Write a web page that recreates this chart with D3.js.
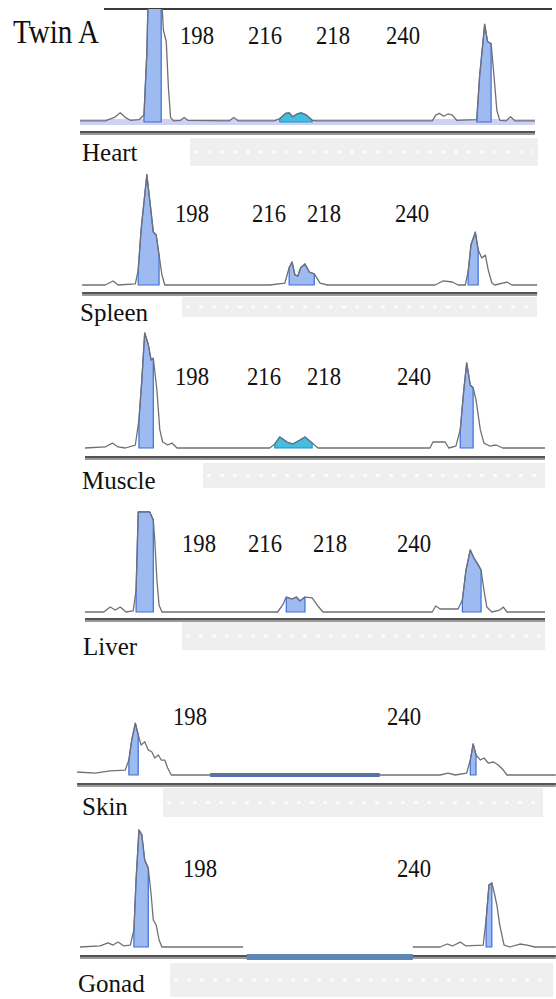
<!DOCTYPE html>
<html>
<head>
<meta charset="utf-8">
<script src="https://cdn.jsdelivr.net/npm/d3@7/dist/d3.min.js"></script>
<style>
  html, body { margin: 0; padding: 0; background: #ffffff; }
  svg { display: block; }
  text { font-family: "Liberation Serif", "Times New Roman", serif; fill: #111; }
</style>
</head>
<body>
<script>
// Fragment size (bp) vs. signal (RFU) for each tissue of Twin A.
// A null signal marks a stretch where no trace was recorded.

const heartTrace = [
  [186.0, 10], [189.5, 10], [190.8, 40], [191.6, 80], [192.3, 40], [193.0, 15],
  [194.2, 20], [194.9, 60], [195.3, 600], [195.5, 1150], [197.3, 1150], [197.6, 800],
  [198.0, 700], [198.3, 300], [198.6, 40], [199.0, 10], [200.0, 15], [200.5, 40],
  [201.0, 15], [206.8, 10], [207.4, 40], [208.0, 10], [213.0, 10], [213.8, 30],
  [214.6, 75], [215.1, 80], [215.6, 45], [216.2, 70], [216.8, 80], [217.5, 60],
  [218.3, 15], [219.0, 10], [235.0, 10], [235.5, 60], [236.0, 75], [236.6, 50],
  [237.2, 70], [237.8, 60], [238.4, 15], [241.2, 20], [241.6, 400], [242.3, 850],
  [242.7, 700], [243.2, 680], [243.6, 400], [244.0, 100], [244.4, 15], [245.3, 10],
  [245.9, 45], [246.5, 10], [249.3, 10]
];
const spleenTrace = [
  [186.3, 0], [189.5, 0], [190.6, 35], [191.3, 0], [193.7, 10], [194.1, 130],
  [194.5, 480], [195.3, 960], [195.7, 740], [196.2, 460], [196.6, 435], [197.0, 260],
  [197.4, 87], [197.8, 0], [212.4, 0], [214.5, 17], [215.1, 150], [215.5, 200],
  [215.9, 87], [216.3, 78], [216.7, 150], [217.3, 183], [217.9, 113], [218.6, 96],
  [219.4, 17], [220.4, 0], [235.4, 0], [236.5, 35], [237.8, 26], [238.6, 0],
  [239.6, 0], [240.0, 113], [240.4, 350], [241.0, 460], [241.4, 305], [241.9, 235],
  [242.4, 260], [242.8, 130], [243.3, 17], [243.7, 0], [245.4, 26], [246.1, 0],
  [249.6, 0]
];
const muscleTrace = [
  [186.7, 0], [189.5, 9], [190.5, 43], [191.3, 9], [192.3, 0], [193.7, 26],
  [194.2, 244], [194.6, 590], [195.0, 1000], [195.5, 900], [195.9, 765], [196.2, 780],
  [196.7, 500], [197.1, 160], [197.5, 52], [198.2, 26], [198.8, 43], [199.5, 0],
  [212.4, 0], [213.1, 35], [213.8, 96], [214.8, 52], [215.6, 35], [216.6, 70],
  [217.3, 96], [218.3, 43], [219.1, 0], [234.7, 0], [235.1, 52], [236.8, 52],
  [237.3, 0], [238.3, 17], [238.9, 157], [239.4, 505], [239.8, 740], [240.3, 548],
  [240.7, 522], [241.1, 418], [241.7, 157], [242.2, 43], [243.0, 17], [243.9, 26],
  [244.8, 0], [250.7, 0]
];
const liverTrace = [
  [186.7, 0], [189.3, 0], [190.2, 43], [190.9, 17], [191.6, 43], [192.4, 0],
  [193.4, 9], [193.8, 190], [194.1, 870], [195.7, 870], [196.2, 800], [196.4, 626],
  [196.7, 278], [197.0, 61], [197.4, 0], [213.5, 0], [214.2, 61], [214.7, 130],
  [215.5, 113], [216.1, 130], [216.6, 96], [217.3, 130], [218.3, 122], [219.1, 52],
  [219.8, 0], [235.0, 0], [235.5, 52], [236.1, 26], [238.6, 26], [239.2, 104],
  [239.7, 365], [240.3, 540], [240.8, 470], [241.4, 410], [241.8, 365], [242.2, 190],
  [242.6, 43], [243.3, 0], [244.4, 17], [244.9, 43], [245.4, 0], [250.7, 0]
];
const skinTrace = [
  [185.6, 26], [188.1, 17], [190.2, 35], [192.3, 43], [192.8, 130], [193.2, 305],
  [193.7, 450], [194.1, 350], [194.5, 260], [195.0, 290], [195.5, 218], [196.0, 200],
  [196.4, 148], [196.9, 174], [197.3, 130], [197.8, 130], [198.2, 61], [198.7, 0],
  [236.1, 0], [237.2, 17], [238.2, 0], [239.8, 17], [240.3, 130], [240.7, 270],
  [241.1, 174], [241.7, 130], [242.2, 148], [242.8, 104], [243.5, 113], [244.2, 87],
  [244.9, 43], [245.4, 0], [252.2, 0]
];
const gonadTrace = [
  [186.0, 0], [188.8, 9], [189.9, 35], [190.6, 17], [191.3, 43], [192.1, 9],
  [193.0, 17], [193.5, 148], [193.8, 583], [194.2, 1018], [194.6, 975], [195.0, 757],
  [195.5, 687], [195.9, 452], [196.2, 235], [196.6, 191], [197.0, 61], [197.4, 0],
  [208.7, 0], [220.0, null], [232.3, 0], [236.1, 0], [237.1, 26], [237.8, 9],
  [238.9, 43], [239.7, 9], [242.1, 17], [242.5, 235], [242.9, 540], [243.3, 557],
  [243.7, 452], [244.0, 365], [244.4, 191], [245.0, 17], [245.8, 0], [247.2, 26],
  [248.2, 17], [249.3, 0], [252.2, 0]
];

// Called peaks: size range [from, to] and the dye they belong to
const heartCalls  = [[194.9, 197.5, "blue"], [213.5, 218.3, "green"], [241.2, 243.3, "blue"]];
const spleenCalls = [[194.0, 197.0, "blue"], [214.8, 218.8, "blue"], [239.8, 241.8, "blue"]];
const muscleCalls = [[194.0, 196.5, "blue"], [213.0, 218.5, "green"], [238.6, 241.0, "blue"]];
const liverCalls  = [[193.8, 196.3, "blue"], [214.3, 218.0, "blue"], [239.2, 241.8, "blue"]];
const skinCalls   = [[192.6, 194.2, "blue"], [240.2, 241.2, "blue"]];
const gonadCalls  = [[193.3, 195.5, "blue"], [242.3, 243.6, "blue"]];

// Allele size labels
const fourAlleles = ["198", "216", "218", "240"];
const twoAlleles  = ["198", "240"];

// Size bins highlighted on the trace
const skinBin  = [204.1, 227.7];
const gonadBin = [209.2, 232.3];

const tissues = ["Heart", "Spleen", "Muscle", "Liver", "Skin", "Gonad"];

// ---------- layout ----------
const W = 556, H = 999;
const x = d3.scaleLinear().domain([186, 250]).range([80, 540]);

const dyeFill   = { blue: "#9dbbf0", green: "#45bde0" };
const dyeStroke = { blue: "#3f6fd6", green: "#1798c4" };

const panels = [
  { trace: heartTrace,  calls: heartCalls,  labels: fourAlleles, base: 122, axisY: 133,
    labelY: 44,  labelX: [180, 248, 316, 386], nameX: 82, nameY: 161,
    strip: [190, 138, 538, 166], clipTop: 9, lavender: true },
  { trace: spleenTrace, calls: spleenCalls, labels: fourAlleles, base: 285, axisY: 294,
    labelY: 222, labelX: [175, 252, 307, 395], nameX: 80, nameY: 321,
    strip: [182, 297, 537, 317] },
  { trace: muscleTrace, calls: muscleCalls, labels: fourAlleles, base: 448, axisY: 458,
    labelY: 385, labelX: [175, 247, 307, 397], nameX: 82, nameY: 489,
    strip: [203, 463, 545, 488] },
  { trace: liverTrace,  calls: liverCalls,  labels: fourAlleles, base: 612, axisY: 620,
    labelY: 552, labelX: [182, 248, 313, 397], nameX: 83, nameY: 655,
    strip: [182, 622, 545, 650] },
  { trace: skinTrace,   calls: skinCalls,   labels: twoAlleles, base: 775, axisY: 785,
    labelY: 725, labelX: [173, 387], nameX: 82, nameY: 815,
    strip: [163, 788, 543, 817], traceBin: skinBin },
  { trace: gonadTrace,  calls: gonadCalls,  labels: twoAlleles, base: 947, axisY: 957,
    labelY: 877, labelX: [183, 397], nameX: 78, nameY: 992,
    strip: [170, 963, 553, 997], axisBin: gonadBin }
];

const svg = d3.select("body").append("svg")
  .attr("width", W).attr("height", H)
  .attr("viewBox", `0 0 ${W} ${H}`);

svg.append("rect").attr("width", W).attr("height", H).attr("fill", "#ffffff");

const defs = svg.append("defs");

// Header
svg.append("line")
  .attr("x1", 104).attr("x2", 552).attr("y1", 9).attr("y2", 9)
  .attr("stroke", "#3a3a3a").attr("stroke-width", 2);
svg.append("text")
  .attr("x", 13).attr("y", 43)
  .attr("font-size", 33)
  .attr("textLength", 86).attr("lengthAdjust", "spacingAndGlyphs")
  .text("Twin A");

panels.forEach((p, i) => {
  const g = svg.append("g").attr("class", "panel-" + tissues[i].toLowerCase());
  const y = d3.scaleLinear().domain([0, 1000]).range([p.base, p.base - 115]);
  const defined = p.trace.filter(d => d[1] != null);
  const [x0, x1] = d3.extent(defined, d => d[0]);

  // clip for saturated peaks running past the header rule
  const clipId = "clip-" + i;
  defs.append("clipPath").attr("id", clipId)
    .append("rect")
    .attr("x", 0).attr("width", W)
    .attr("y", p.clipTop != null ? p.clipTop : 0)
    .attr("height", H);

  // light size-ruler strip under the axis
  const [sx0, sy0, sx1, sy1] = p.strip;
  g.append("rect")
    .attr("x", sx0).attr("y", sy0)
    .attr("width", sx1 - sx0).attr("height", sy1 - sy0)
    .attr("fill", "#efefef");
  g.append("line")
    .attr("x1", sx0 + 4).attr("x2", sx1 - 4)
    .attr("y1", (sy0 + sy1) / 2).attr("y2", (sy0 + sy1) / 2)
    .attr("stroke", "#fbfbfb").attr("stroke-width", 3)
    .attr("stroke-dasharray", "4,9");

  // baseline band
  if (p.lavender) {
    g.append("rect")
      .attr("x", x(x0)).attr("width", x(x1) - x(x0))
      .attr("y", p.base - 3).attr("height", 6)
      .attr("fill", "#cdd1f4");
  }

  // axis rule
  g.append("line")
    .attr("x1", x(x0)).attr("x2", x(x1))
    .attr("y1", p.axisY).attr("y2", p.axisY)
    .attr("stroke", "#9a9a9a").attr("stroke-width", 4);
  g.append("line")
    .attr("x1", x(x0)).attr("x2", x(x1))
    .attr("y1", p.axisY - 1).attr("y2", p.axisY - 1)
    .attr("stroke", "#3c3c3c").attr("stroke-width", 1.5);

  if (p.axisBin) {
    g.append("rect")
      .attr("x", x(p.axisBin[0])).attr("width", x(p.axisBin[1]) - x(p.axisBin[0]))
      .attr("y", p.axisY - 3).attr("height", 6)
      .attr("fill", "#5b86b6");
  }
  if (p.traceBin) {
    g.append("line")
      .attr("x1", x(p.traceBin[0])).attr("x2", x(p.traceBin[1]))
      .attr("y1", p.base).attr("y2", p.base)
      .attr("stroke", "#4a74c0").attr("stroke-width", 4);
  }

  const plot = g.append("g").attr("clip-path", `url(#${clipId})`);

  // called peaks shaded by dye
  const area = d3.area()
    .x(d => x(d[0]))
    .y0(p.base)
    .y1(d => y(d[1]));
  p.calls.forEach(([a, b, dye]) => {
    const pts = defined.filter(d => d[0] >= a && d[0] <= b);
    plot.append("path")
      .datum(pts)
      .attr("d", area)
      .attr("fill", dyeFill[dye])
      .attr("stroke", dyeStroke[dye])
      .attr("stroke-width", 1.2)
      .attr("stroke-linejoin", "round");
  });

  // raw trace
  const line = d3.line()
    .defined(d => d[1] != null)
    .x(d => x(d[0]))
    .y(d => y(d[1]));
  plot.append("path")
    .datum(p.trace)
    .attr("d", line)
    .attr("fill", "none")
    .attr("stroke", "#6f6f78")
    .attr("stroke-width", 1.3)
    .attr("stroke-linejoin", "round");

  // allele labels
  g.selectAll("text.allele")
    .data(p.labels)
    .join("text")
    .attr("class", "allele")
    .attr("x", (d, j) => p.labelX[j])
    .attr("y", p.labelY)
    .attr("font-size", 25)
    .attr("textLength", 34).attr("lengthAdjust", "spacingAndGlyphs")
    .text(d => d);

  // tissue name
  g.append("text")
    .attr("x", p.nameX).attr("y", p.nameY)
    .attr("font-size", 25)
    .text(tissues[i]);
});
</script>
</body>
</html>
